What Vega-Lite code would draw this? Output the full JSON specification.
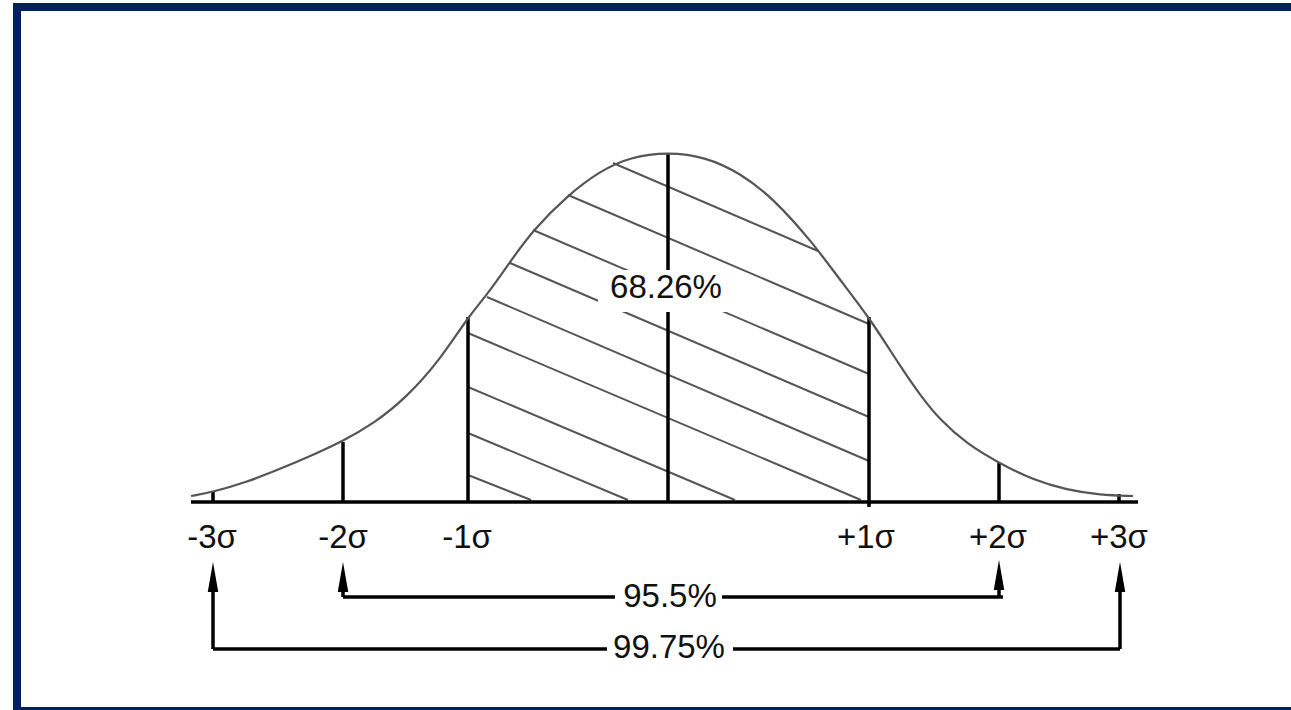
{
  "$schema": "https://vega.github.io/schema/vega-lite/v6.json",
  "width": 1291,
  "height": 710,
  "autosize": "none",
  "padding": 0,
  "background": "white",
  "config": {"view": {"stroke": null}},
  "datasets": {
    "frame": [{"x": -651, "x2": 632, "y": 495, "y2": -209}],
    "curve": [
      {"x": -477, "y": 6}, {"x": -455, "y": 10}, {"x": -421, "y": 20}, {"x": -388, "y": 33},
      {"x": -355, "y": 47}, {"x": -325, "y": 61}, {"x": -295, "y": 78},
      {"x": -263, "y": 103}, {"x": -228, "y": 142}, {"x": -200, "y": 185}, {"x": -181, "y": 207},
      {"x": -158, "y": 240}, {"x": -135, "y": 272}, {"x": -100, "y": 307}, {"x": -68, "y": 331},
      {"x": -38, "y": 345}, {"x": 0, "y": 350},
      {"x": 38, "y": 345}, {"x": 72, "y": 329}, {"x": 105, "y": 304},
      {"x": 145, "y": 259}, {"x": 172, "y": 222}, {"x": 201, "y": 185}, {"x": 232, "y": 136},
      {"x": 252, "y": 107}, {"x": 272, "y": 82}, {"x": 299, "y": 58}, {"x": 331, "y": 39},
      {"x": 365, "y": 22}, {"x": 399, "y": 12}, {"x": 432, "y": 7}, {"x": 465, "y": 6}
    ],
    "hatch": [
      {"x": -55, "y": 339, "x2": 150, "y2": 251},
      {"x": -100, "y": 307, "x2": 201, "y2": 178},
      {"x": -135, "y": 272, "x2": 201, "y2": 128},
      {"x": -158, "y": 239, "x2": 201, "y2": 85},
      {"x": -181, "y": 205, "x2": 201, "y2": 41},
      {"x": -200, "y": 169, "x2": 193, "y2": 2},
      {"x": -200, "y": 115, "x2": 67, "y2": 2},
      {"x": -200, "y": 69, "x2": -40, "y2": 2},
      {"x": -200, "y": 27, "x2": -137, "y2": 2}
    ],
    "knockout": [{"x": -70, "x2": 60, "y": 232, "y2": 190}],
    "rules": [
      {"x": -455, "y": 11, "x2": -455, "y2": 0},
      {"x": -325, "y": 60, "x2": -325, "y2": 0},
      {"x": -200, "y": 185, "x2": -200, "y2": 0},
      {"x": 0, "y": 349, "x2": 0, "y2": 0},
      {"x": 201, "y": 185, "x2": 201, "y2": -5},
      {"x": 331, "y": 39, "x2": 331, "y2": 0},
      {"x": 451, "y": 8, "x2": 451, "y2": 0},
      {"x": -477, "y": 0, "x2": 470, "y2": 0},
      {"x": -325, "y": -95, "x2": -53, "y2": -95},
      {"x": 54, "y": -95, "x2": 335, "y2": -95},
      {"x": -455, "y": -147, "x2": -61, "y2": -147},
      {"x": 65, "y": -147, "x2": 452, "y2": -147},
      {"x": -325, "y": -95, "x2": -325, "y2": -75},
      {"x": 331, "y": -95, "x2": 331, "y2": -73},
      {"x": -455, "y": -147, "x2": -455, "y2": -75},
      {"x": 452, "y": -147, "x2": 452, "y2": -75}
    ],
    "arrows": [
      {"x": -455, "y": -75},
      {"x": -325, "y": -75},
      {"x": 331, "y": -73},
      {"x": 452, "y": -75}
    ],
    "labels": [
      {"x": -456, "y": -46, "label": "-3σ"},
      {"x": -325, "y": -46, "label": "-2σ"},
      {"x": -201, "y": -46, "label": "-1σ"},
      {"x": 198, "y": -46, "label": "+1σ"},
      {"x": 330, "y": -46, "label": "+2σ"},
      {"x": 451, "y": -46, "label": "+3σ"},
      {"x": -2, "y": 204, "label": "68.26%"},
      {"x": 2, "y": -105, "label": "95.5%"},
      {"x": 1, "y": -156, "label": "99.75%"}
    ]
  },
  "encoding": {
    "x": {"field": "x", "type": "quantitative", "scale": {"domain": [-668, 623], "nice": false, "zero": false}, "axis": null},
    "y": {"field": "y", "type": "quantitative", "scale": {"domain": [-208, 502], "nice": false, "zero": false}, "axis": null}
  },
  "layer": [
    {
      "data": {"name": "frame"},
      "mark": {"type": "rect", "fill": null, "stroke": "#002060", "strokeWidth": 8},
      "encoding": {"x2": {"field": "x2"}, "y2": {"field": "y2"}}
    },
    {
      "data": {"name": "hatch"},
      "mark": {"type": "rule", "stroke": "#555555", "strokeWidth": 2},
      "encoding": {"x2": {"field": "x2"}, "y2": {"field": "y2"}}
    },
    {
      "data": {"name": "rules"},
      "mark": {"type": "rule", "stroke": "#000000", "strokeWidth": 3.5},
      "encoding": {"x2": {"field": "x2"}, "y2": {"field": "y2"}}
    },
    {
      "data": {"name": "knockout"},
      "mark": {"type": "rect", "fill": "white", "stroke": null},
      "encoding": {"x2": {"field": "x2"}, "y2": {"field": "y2"}}
    },
    {
      "data": {"name": "curve"},
      "mark": {"type": "line", "stroke": "#555555", "strokeWidth": 2.2, "interpolate": "basis"},
      "encoding": {}
    },
    {
      "data": {"name": "arrows"},
      "mark": {"type": "point", "shape": "M0,-1L0.35,1L-0.35,1Z", "size": 900, "filled": true, "fill": "#000000", "opacity": 1, "strokeWidth": 0}
    },
    {
      "data": {"name": "labels"},
      "mark": {"type": "text", "font": "Liberation Sans", "fontSize": 33, "align": "center", "baseline": "alphabetic", "fill": "#111111"},
      "encoding": {"text": {"field": "label"}}
    }
  ]
}
